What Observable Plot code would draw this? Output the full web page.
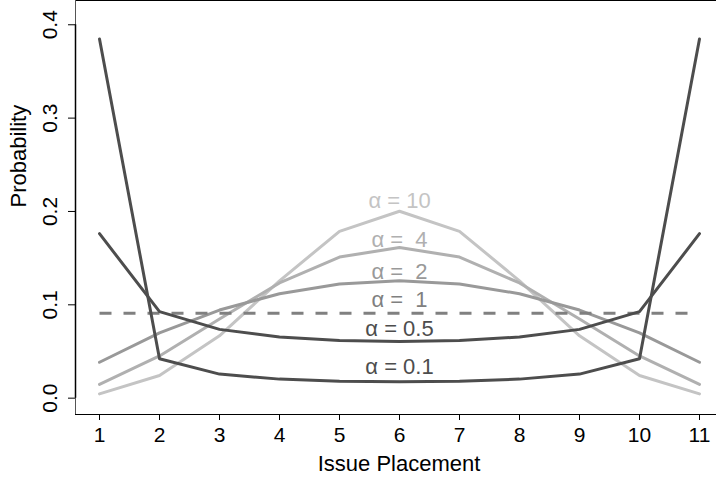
<!DOCTYPE html>
<html><head><meta charset="utf-8">
<script src="https://cdn.jsdelivr.net/npm/d3@7"></script>
<script src="https://cdn.jsdelivr.net/npm/@observablehq/plot@0.6"></script>
<style>
body{margin:0;background:#fff}
svg text{white-space:pre}
</style>
</head><body><div id="chart"></div>
<script>
// Issue placement categories (x)
const placement = [1, 2, 3, 4, 5, 6, 7, 8, 9, 10, 11];
// Series labels (drawing order: lightest first)
const alphaLabels = ["α = 10", "α =  4", "α =  2", "α =  1", "α = 0.5", "α = 0.1"];
// Probabilities
const probA10  = [0.0046, 0.0243, 0.0668, 0.1257, 0.1787, 0.2002, 0.1787, 0.1257, 0.0668, 0.0243, 0.0046];
const probA4   = [0.0147, 0.0452, 0.0848, 0.1234, 0.1512, 0.1613, 0.1512, 0.1234, 0.0848, 0.0452, 0.0147];
const probA2   = [0.0385, 0.0699, 0.0944, 0.1119, 0.1224, 0.1259, 0.1224, 0.1119, 0.0944, 0.0699, 0.0385];
const probA1   = [0.0909, 0.0909, 0.0909, 0.0909, 0.0909, 0.0909, 0.0909, 0.0909, 0.0909, 0.0909, 0.0909];
const probA05  = [0.1762, 0.0927, 0.0737, 0.0655, 0.0617, 0.0606, 0.0617, 0.0655, 0.0737, 0.0927, 0.1762];
const probA01  = [0.3847, 0.0423, 0.0258, 0.0204, 0.0181, 0.0175, 0.0181, 0.0204, 0.0258, 0.0423, 0.3847];
// Label anchor values
const labelPlacement = [6, 6, 6, 6, 6, 6];
const labelProb = [0.211, 0.170, 0.135, 0.105, 0.074, 0.033];
// Axis ticks
const yTicks = [0, 0.1, 0.2, 0.3, 0.4];
const yTickLabels = ["0.0", "0.1", "0.2", "0.3", "0.4"];
const xTicks = [1, 2, 3, 4, 5, 6, 7, 8, 9, 10, 11];

const seriesValues = [probA10, probA4, probA2, probA1, probA05, probA01];
const rows = [];
alphaLabels.forEach((a, s) => placement.forEach((x, i) => rows.push({alpha: a, x, p: seriesValues[s][i]})));
const labelRows = alphaLabels.map((a, i) => ({alpha: a, x: labelPlacement[i], p: labelProb[i]}));

const xDomain = [0.6, 11.4];
const yDomain = [-0.0175, 0.426];

const solid = (a) => Plot.line(rows.filter(r => r.alpha === a), {
  x: "x", y: "p", stroke: "alpha", strokeWidth: 3, strokeLinejoin: "round", strokeLinecap: "round"
});

const chart = Plot.plot({
  width: 716,
  height: 477,
  marginLeft: 75,
  marginRight: 0,
  marginTop: 0,
  marginBottom: 63,
  style: {fontFamily: "'Liberation Sans', Arial, Helvetica, sans-serif", fontSize: "21px", background: "#fff", color: "#000"},
  x: {domain: xDomain, range: [75, 723]},
  y: {domain: yDomain},
  color: {domain: alphaLabels, range: ["#c4c4c4", "#b0b0b0", "#999999", "#808080", "#4d4d4d", "#4d4d4d"]},
  marks: [
    Plot.ruleY([yDomain[1]], {stroke: "#000", strokeWidth: 1}),
    Plot.ruleY([yDomain[0]], {stroke: "#000", strokeWidth: 1}),
    Plot.ruleX([xDomain[0]], {stroke: "#555", strokeWidth: 1}),
    Plot.ruleX([xDomain[0]], {y1: yTicks[0], y2: yTicks[yTicks.length - 1], stroke: "#000", strokeWidth: 1.5}),
    Plot.axisY(yTicks, {tickSize: 7, tickRotate: -90, tickPadding: 12, tickFormat: (d, i) => yTickLabels[i], label: null}),
    Plot.axisX(xTicks, {tickSize: 6, tickPadding: 7, label: null}),
    Plot.text(["Issue Placement"], {frameAnchor: "bottom", lineAnchor: "bottom", dx: 3, dy: 56, fill: "#000", fontSize: 22}),
    Plot.text(["Probability"], {frameAnchor: "left", lineAnchor: "bottom", rotate: -90, dx: -50, fill: "#000", fontSize: 22}),
    solid(alphaLabels[0]),
    solid(alphaLabels[1]),
    solid(alphaLabels[2]),
    Plot.line(rows.filter(r => r.alpha === alphaLabels[3]), {
      x: "x", y: "p", stroke: "alpha", strokeWidth: 3, strokeDasharray: "12,12", strokeLinecap: "butt"
    }),
    solid(alphaLabels[4]),
    solid(alphaLabels[5]),
    Plot.text(labelRows, {x: "x", y: "p", text: "alpha", fill: "alpha", textAnchor: "middle", lineAnchor: "middle", fontSize: 22})
  ]
});
document.getElementById("chart").appendChild(chart);
</script>
</body></html>
